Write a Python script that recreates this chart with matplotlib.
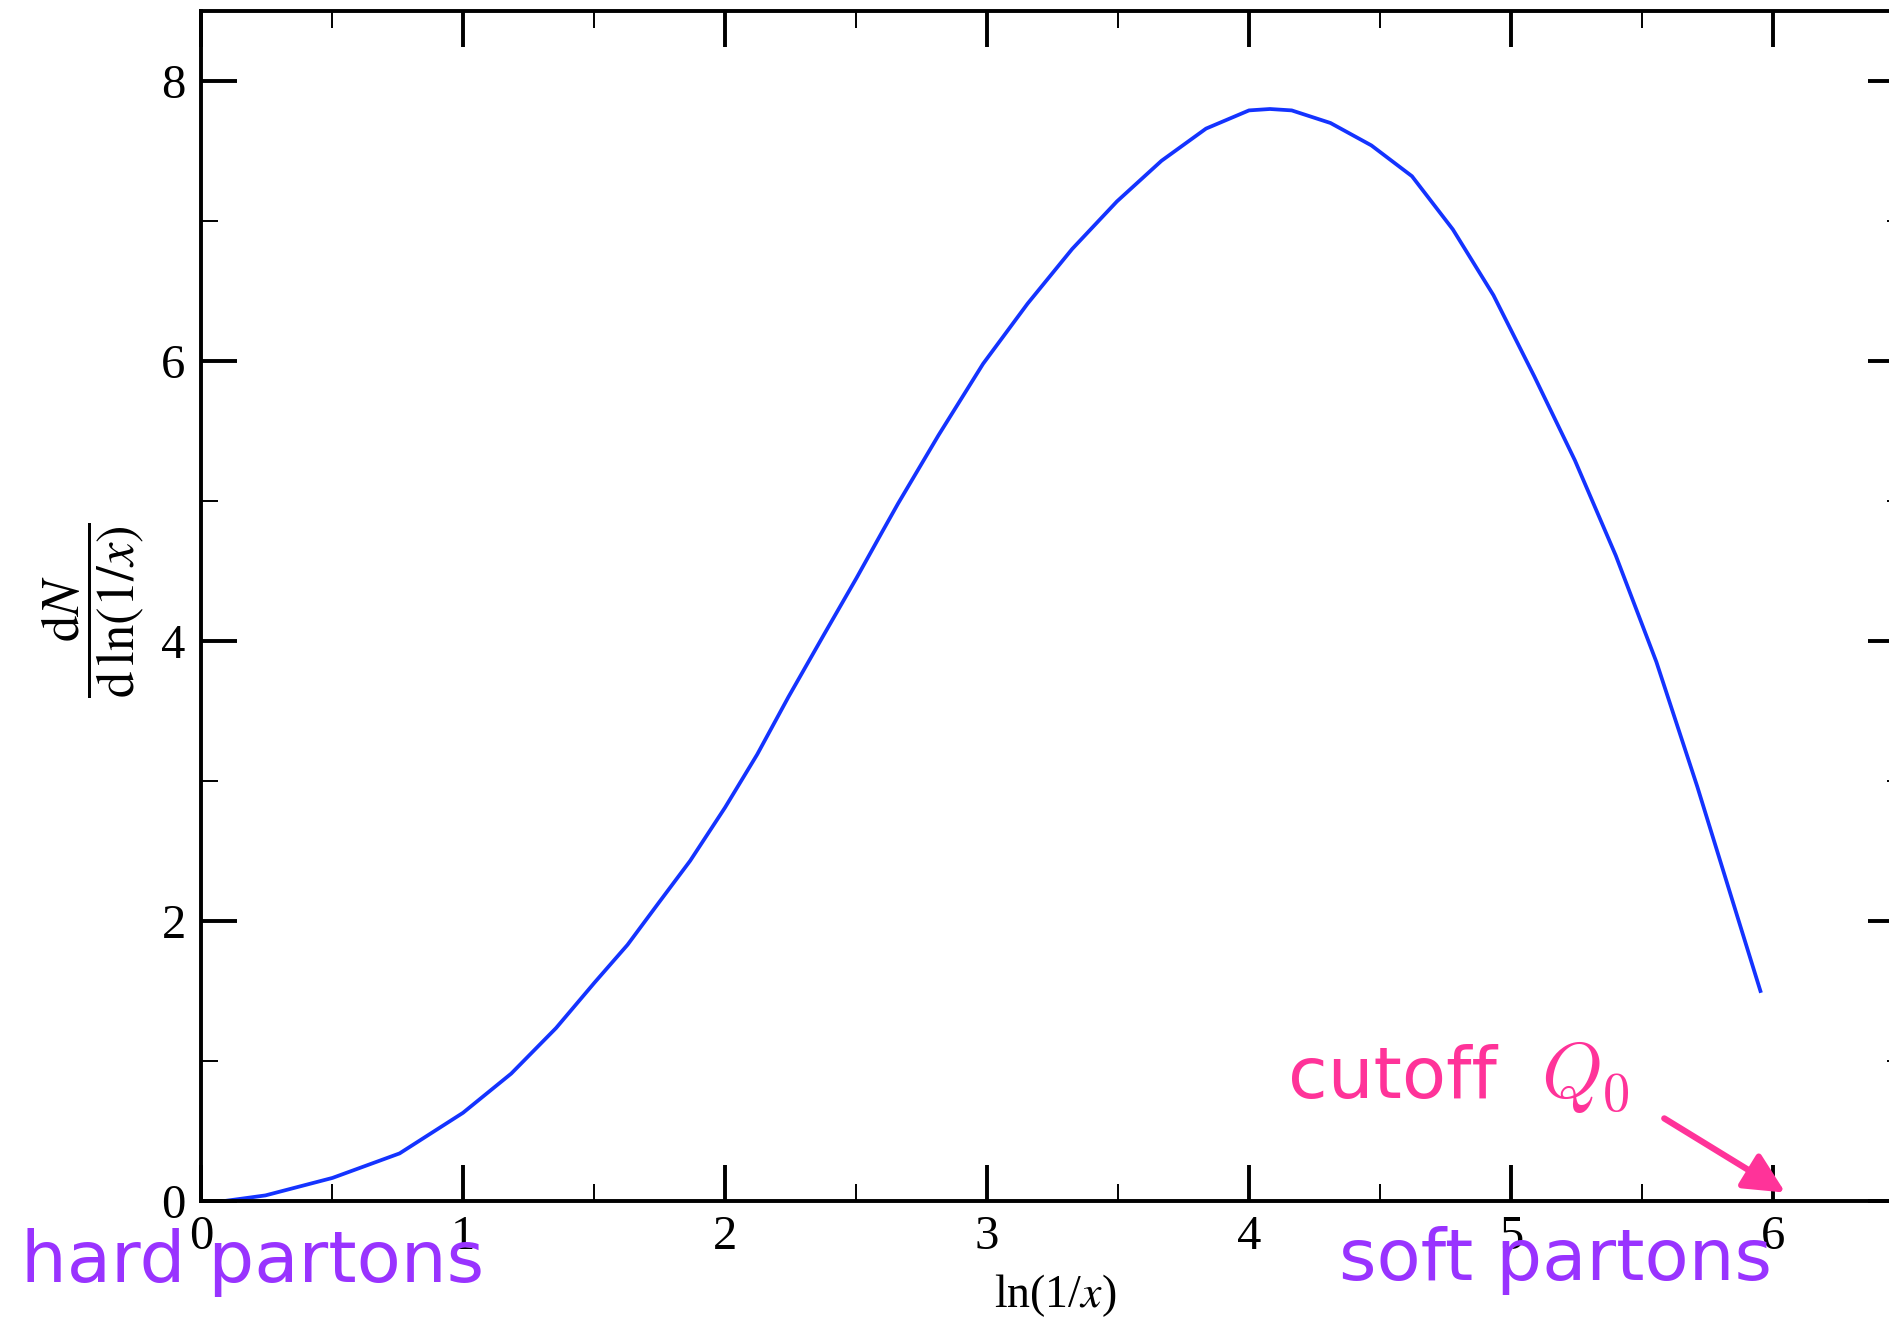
import numpy as np
import matplotlib
matplotlib.use('Agg')
from matplotlib import pyplot as plt
from matplotlib.ticker import MultipleLocator

plt.rcParams['font.family'] = 'serif'
plt.rcParams['font.serif'] = ['Liberation Serif', 'DejaVu Serif']
plt.rcParams['mathtext.fontset'] = 'stix'

# parton spectrum dN/dln(1/x) vs ln(1/x)
lnx = [0.09, 0.246, 0.502, 0.758, 1.0, 1.184, 1.355, 1.502, 1.628, 1.747,
       1.867, 2.0, 2.123, 2.242, 2.379, 2.502, 2.60, 2.66, 2.815, 2.985,
       3.155, 3.325, 3.496, 3.666, 3.836, 4.0, 4.08, 4.163, 4.311, 4.467,
       4.622, 4.778, 4.933, 5.089, 5.244, 5.40, 5.555, 5.711, 5.866, 5.952]
dn = [0.0, 0.04, 0.165, 0.34, 0.63, 0.91, 1.235, 1.56, 1.83, 2.13,
      2.43, 2.81, 3.19, 3.60, 4.05, 4.45, 4.78, 4.98, 5.47, 5.98,
      6.41, 6.80, 7.14, 7.43, 7.66, 7.79, 7.80, 7.79, 7.70, 7.54,
      7.32, 6.94, 6.47, 5.89, 5.29, 4.61, 3.85, 2.96, 2.02, 1.50]

xticks = [0, 1, 2, 3, 4, 5, 6]
yticks = [0, 2, 4, 6, 8]

pink = '#ff3399'
purple = '#9933ff'

W, H = 1889, 1317
fig = plt.figure(figsize=(W/100, H/100), dpi=100)
ax = fig.add_axes([201/W, 116/H, 1703/W, 1190/H])

ax.plot(lnx, dn, color='#1433ff', lw=2.7, solid_joinstyle='round')

ax.set_xlim(0, 6.5)
ax.set_ylim(0, 8.5)
ax.set_xticks(xticks)
ax.set_yticks(yticks)
ax.xaxis.set_minor_locator(MultipleLocator(0.5))
ax.yaxis.set_minor_locator(MultipleLocator(1))
ax.tick_params(which='both', direction='in', top=True, right=True)
ax.tick_params(which='major', length=26, width=2.8, labelsize=35)
ax.tick_params(which='minor', length=12.5, width=1.4)
ax.tick_params(axis='x', which='major', pad=10)
ax.tick_params(axis='y', which='major', pad=11)
for s in ax.spines.values():
    s.set_linewidth(2.8)

ax.set_xlabel(r'ln(1/$x$)', fontsize=33)
ax.xaxis.set_label_coords(0.5015, -0.060)
ax.set_ylabel(r'$\dfrac{\mathrm{d}N}{\mathrm{d}\,\mathrm{ln}(1/x)}$', fontsize=38)
ax.yaxis.set_label_coords(-0.0635, 0.496)
ax.yaxis.label.set_verticalalignment('center')

# annotations
fig.text(21/W, 1-1282/H, 'hard partons', color=purple, fontsize=52,
         family='DejaVu Sans', va='baseline', ha='left')
fig.text(1339/W, 1-1280/H, 'soft partons', color=purple, fontsize=52,
         family='DejaVu Sans', va='baseline', ha='left')
ax.text((1289-201)/262.3, (1201-1098)/140.1, 'cutoff', color=pink, fontsize=52,
        family='DejaVu Sans', va='baseline', ha='left')
ax.text((1543-201)/262.3, (1201-1098)/140.1, r'$Q_0$', color=pink, fontsize=56,
        math_fontfamily='cm', va='baseline', ha='left')
ax.annotate('', xy=(6.047, 0.06), xytext=(5.585, 0.59),
            arrowprops=dict(arrowstyle='-|>,head_length=0.45,head_width=0.22',
                            color=pink, lw=4.5, mutation_scale=55,
                            shrinkA=0, shrinkB=0))

fig.savefig('out.png', dpi=100)
